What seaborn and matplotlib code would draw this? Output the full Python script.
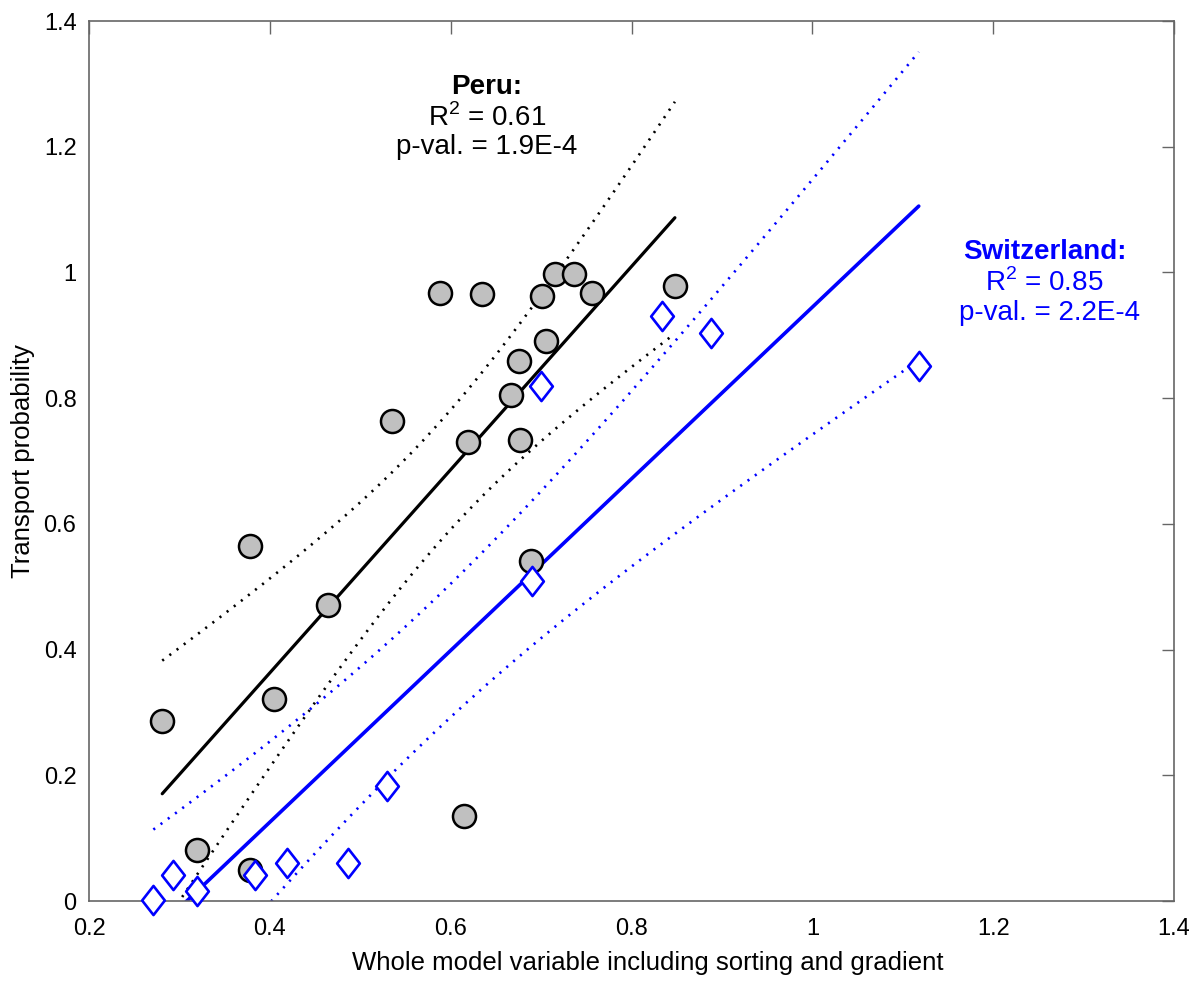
import numpy as np
import pandas as pd
import seaborn as sns
import matplotlib.pyplot as plt
from matplotlib.path import Path

# ---- data ----
# Peru: grey circles
peru_x = [0.281, 0.319, 0.378, 0.378, 0.405, 0.464, 0.535, 0.588, 0.615, 0.6195, 0.635,
          0.667, 0.676, 0.677, 0.689, 0.701, 0.705, 0.715, 0.736, 0.756, 0.848]
peru_y = [0.287, 0.081, 0.049, 0.565, 0.321, 0.471, 0.763, 0.967, 0.135, 0.730, 0.965,
          0.805, 0.859, 0.733, 0.541, 0.963, 0.891, 0.997, 0.997, 0.968, 0.979]

# Switzerland: blue diamonds
swiss_x = [0.2712, 0.2928, 0.319, 0.3835, 0.419, 0.486, 0.530, 0.6903, 0.7004, 0.834, 0.8874, 1.1177]
swiss_y = [0.0016, 0.042, 0.016, 0.041, 0.0597, 0.0597, 0.183, 0.509, 0.8186, 0.931, 0.903, 0.851]

x_ticks = [0.2, 0.4, 0.6, 0.8, 1.0, 1.2, 1.4]
x_tick_labels = ["0.2", "0.4", "0.6", "0.8", "1", "1.2", "1.4"]
y_ticks = [0, 0.2, 0.4, 0.6, 0.8, 1.0, 1.2, 1.4]
y_tick_labels = ["0", "0.2", "0.4", "0.6", "0.8", "1", "1.2", "1.4"]

peru_text = ["Peru:", "R$^2$ = 0.61", "p-val. = 1.9E-4"]
swiss_text = ["Switzerland:", "R$^2$ = 0.85", "p-val. = 2.2E-4"]

# two-sided 95% t quantiles for the residual degrees of freedom
t95 = {19: 2.093, 10: 2.228}


def conf_band(x, y):
    # OLS fit and 95% confidence band of the mean, over the data range
    x = np.asarray(x)
    y = np.asarray(y)
    n = len(x)
    slope, icpt = np.polyfit(x, y, 1)
    xs = np.linspace(x.min(), x.max(), 200)
    s = np.sqrt(np.sum((y - (icpt + slope * x)) ** 2) / (n - 2))
    sxx = np.sum((x - x.mean()) ** 2)
    half = t95[n - 2] * s * np.sqrt(1.0 / n + (xs - x.mean()) ** 2 / sxx)
    fit = icpt + slope * xs
    return pd.DataFrame({"x": xs, "lo": fit - half, "hi": fit + half})


sns.set_theme(style="white")
plt.rcParams["font.family"] = ["Liberation Sans", "DejaVu Sans"]
plt.rcParams["mathtext.fontset"] = "custom"
plt.rcParams["mathtext.rm"] = "Liberation Sans"
for k in ["text.color", "axes.labelcolor", "xtick.labelcolor", "ytick.labelcolor"]:
    plt.rcParams[k] = "black"

fig = plt.figure(figsize=(12.04, 9.81), dpi=100)
ax = fig.add_axes([89 / 1204, 80 / 981, (1174 - 89) / 1204, 880 / 981])

blue = "#0000ff"
dots = (0, (0.8, 2.6))

# confidence bands (dotted)
for xs, ys, col in [(peru_x, peru_y, "black"), (swiss_x, swiss_y, blue)]:
    band = conf_band(xs, ys)
    sns.lineplot(data=band, x="x", y="hi", color=col, lw=1.9, linestyle=dots,
                 ax=ax, sort=False, estimator=None)
    sns.lineplot(data=band, x="x", y="lo", color=col, lw=1.9, linestyle=dots,
                 ax=ax, sort=False, estimator=None)

# regression lines
sns.regplot(x=peru_x, y=peru_y, scatter=False, ci=None, truncate=True, ax=ax,
            line_kws={"color": "black", "lw": 2.3})
sns.regplot(x=swiss_x, y=swiss_y, scatter=False, ci=None, truncate=True, ax=ax,
            line_kws={"color": blue, "lw": 2.6})

# points
sns.scatterplot(x=peru_x, y=peru_y, ax=ax, marker="o", s=275, color="#c0c0c0",
                edgecolor="black", linewidth=1.8, zorder=5, clip_on=False)
diamond = Path([(-0.78, 0), (0, 1), (0.78, 0), (0, -1), (-0.78, 0)],
               [Path.MOVETO, Path.LINETO, Path.LINETO, Path.LINETO, Path.CLOSEPOLY])
sns.scatterplot(x=swiss_x, y=swiss_y, ax=ax, marker=diamond, s=440, color="white",
                edgecolor=blue, linewidth=1.9, zorder=6, clip_on=False)

ax.set_xlim(0.2, 1.4)
ax.set_ylim(0, 1.4)
ax.set_xticks(x_ticks, labels=x_tick_labels)
ax.set_yticks(y_ticks, labels=y_tick_labels)
ax.tick_params(axis="both", direction="in", length=9, width=1, color="#666666",
               top=True, right=True, labelsize=17)
ax.tick_params(axis="x", pad=12)
ax.tick_params(axis="y", pad=9)
for sp in ax.spines.values():
    sp.set_color("#666666")
    sp.set_linewidth(1.2)

ax.set_xlabel("Whole model variable including sorting and gradient", fontsize=18.5)
ax.xaxis.set_label_coords(0.515, -0.057)
ax.set_ylabel("Transport probability", fontsize=18.5, labelpad=6)

# annotations
ax.text(0.64, 1.295, peru_text[0], ha="center", va="center", fontsize=20, fontweight="bold")
ax.text(0.64, 1.246, peru_text[1], ha="center", va="center", fontsize=20)
ax.text(0.64, 1.199, peru_text[2], ha="center", va="center", fontsize=20)
ax.text(1.257, 1.032, swiss_text[0], ha="center", va="center", fontsize=20,
        fontweight="bold", color=blue)
ax.text(1.257, 0.983, swiss_text[1], ha="center", va="center", fontsize=20, color=blue)
ax.text(1.262, 0.936, swiss_text[2], ha="center", va="center", fontsize=20, color=blue)

fig.savefig("out.png", dpi=100)
